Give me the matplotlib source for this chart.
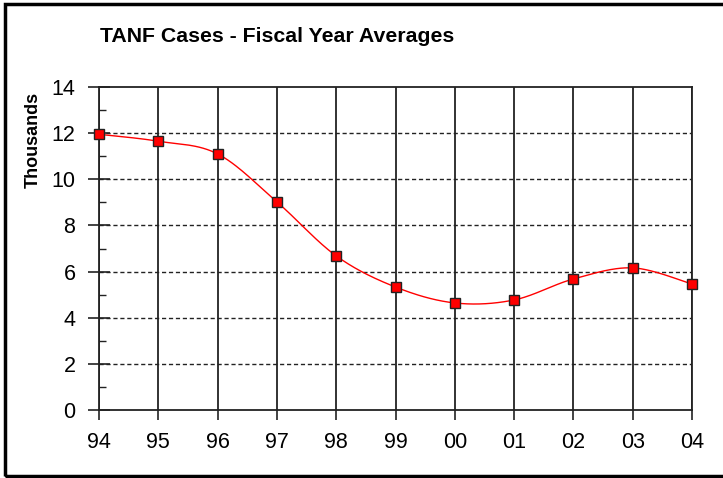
import numpy as np
import matplotlib
matplotlib.use("Agg")
import matplotlib.pyplot as plt
from matplotlib.ticker import MultipleLocator
from matplotlib.patches import Rectangle

years = ["94", "95", "96", "97", "98", "99", "00", "01", "02", "03", "04"]
cases = [11.95, 11.65, 11.1, 9.02, 6.68, 5.33, 4.64, 4.77, 5.68, 6.16, 5.46]
title = "TANF Cases - Fiscal Year Averages"
ylabel = "Thousands"

plt.rcParams['font.family'] = ['Liberation Sans', 'DejaVu Sans']

fig = plt.figure(figsize=(7.23, 4.78), dpi=100)
W, H = 723, 478
ax = fig.add_axes([99 / W, (H - 410) / H, (692 - 99) / W, (410 - 87) / H])

x = np.arange(len(cases), dtype=float)
y = np.array(cases, dtype=float)

# Excel-like smoothed line (Catmull-Rom Bezier)
def smooth(xs, ys, n=30):
    px, py = [], []
    N = len(xs)
    for i in range(N - 1):
        p0 = (xs[max(i - 1, 0)], ys[max(i - 1, 0)])
        p1 = (xs[i], ys[i])
        p2 = (xs[i + 1], ys[i + 1])
        p3 = (xs[min(i + 2, N - 1)], ys[min(i + 2, N - 1)])
        c1 = (p1[0] + (p2[0] - p0[0]) / 6, p1[1] + (p2[1] - p0[1]) / 6)
        c2 = (p2[0] - (p3[0] - p1[0]) / 6, p2[1] - (p3[1] - p1[1]) / 6)
        t = np.linspace(0, 1, n)
        bx = (1 - t) ** 3 * p1[0] + 3 * (1 - t) ** 2 * t * c1[0] + 3 * (1 - t) * t ** 2 * c2[0] + t ** 3 * p2[0]
        by = (1 - t) ** 3 * p1[1] + 3 * (1 - t) ** 2 * t * c1[1] + 3 * (1 - t) * t ** 2 * c2[1] + t ** 3 * p2[1]
        px.extend(bx)
        py.extend(by)
    return np.array(px), np.array(py)

sx, sy = smooth(x, y)
ax.plot(sx, sy, color='#ff0000', lw=1.0, zorder=3, clip_on=False)
ax.plot(x, y, linestyle='none', marker='s', markersize=7.5, markerfacecolor='#ff0000',
        markeredgecolor='#222222', markeredgewidth=1.0, zorder=4, clip_on=False)

ax.set_xlim(0, len(cases) - 1)
ax.set_ylim(0, 14)
ax.set_xticks(x)
ax.set_xticklabels(years)
ax.yaxis.set_major_locator(MultipleLocator(2))
ax.yaxis.set_minor_locator(MultipleLocator(1))

# vertical solid gridlines
for xi in x:
    ax.axvline(xi, color='#222222', lw=1.3, zorder=1)
# horizontal dashed gridlines
for yv in range(2, 14, 2):
    ax.axhline(yv, color='#222222', lw=1.0, ls=(0, (3, 2)), zorder=1)

for s in ax.spines.values():
    s.set_color('#222222')
    s.set_linewidth(1.3)

ax.tick_params(axis='y', which='major', direction='inout', length=16, width=1.2,
               color='#222222', labelsize=15.5, pad=9)
ax.tick_params(axis='y', which='minor', direction='in', length=5, width=1.0, color='#222222')
ax.tick_params(axis='x', which='major', direction='out', length=7, width=1.2,
               color='#222222', labelsize=15.5, pad=9)

fig.text(33 / W, 1 - 140 / H, ylabel, fontsize=13, fontweight='bold', rotation=90,
         ha='center', va='center')
fig.text(100 / W, 1 - 36 / H, title, fontsize=15.3, fontweight='bold', ha='left', va='center')

# outer chart border
fig.patches.append(Rectangle((5 / W, 2 / H), 1.2, (476 - 4) / H, transform=fig.transFigure,
                             fill=False, edgecolor='black', lw=2.5))

fig.savefig("out.png", dpi=100)
